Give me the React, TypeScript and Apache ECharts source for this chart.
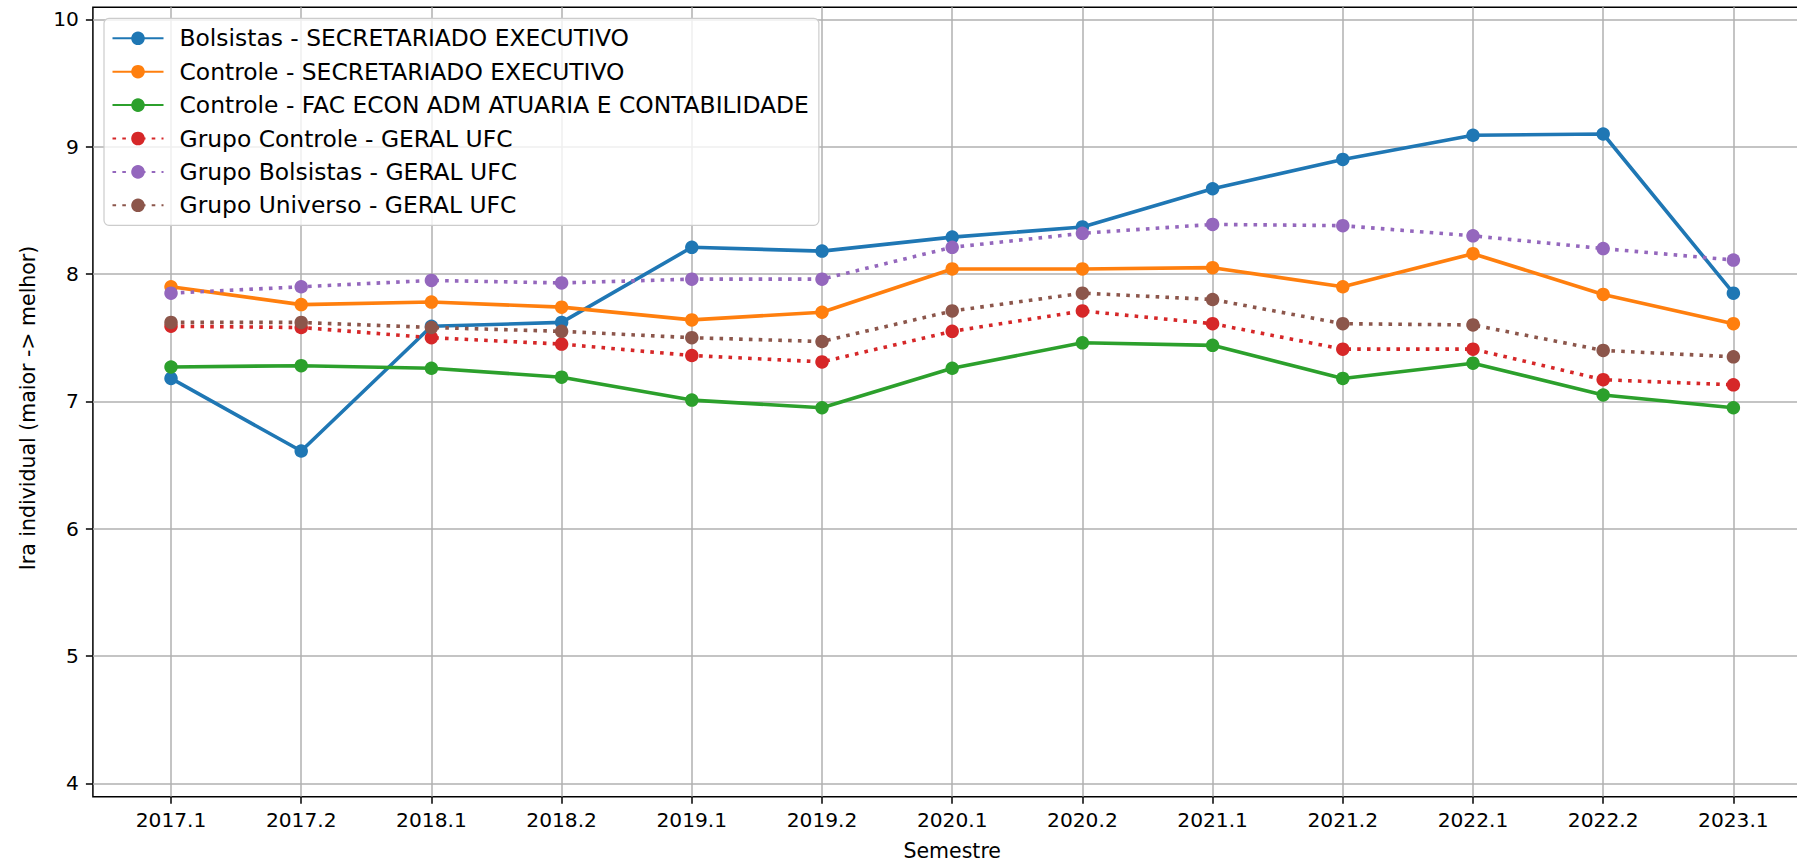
import React, { useEffect, useRef } from "react";
import * as echarts from "echarts";

const semesters = ["2017.1", "2017.2", "2018.1", "2018.2", "2019.1", "2019.2", "2020.1", "2020.2", "2021.1", "2021.2", "2022.1", "2022.2", "2023.1"];
const yTicks = [4, 5, 6, 7, 8, 9, 10];

const bolsistasSE = [7.18, 6.61, 7.59, 7.62, 8.21, 8.18, 8.29, 8.37, 8.67, 8.90, 9.09, 9.10, 7.85];
const controleSE = [7.90, 7.76, 7.78, 7.74, 7.64, 7.70, 8.04, 8.04, 8.05, 7.90, 8.16, 7.84, 7.61];
const controleFAC = [7.27, 7.28, 7.26, 7.19, 7.01, 6.95, 7.26, 7.46, 7.44, 7.18, 7.30, 7.05, 6.95];
const grupoControle = [7.59, 7.58, 7.50, 7.45, 7.36, 7.31, 7.55, 7.71, 7.61, 7.41, 7.41, 7.17, 7.13];
const grupoBolsistas = [7.85, 7.90, 7.95, 7.93, 7.96, 7.96, 8.21, 8.32, 8.39, 8.38, 8.30, 8.20, 8.11];
const grupoUniverso = [7.62, 7.62, 7.58, 7.55, 7.50, 7.47, 7.71, 7.85, 7.80, 7.61, 7.60, 7.40, 7.35];

const seriesDefs = [
  { name: "Bolsistas - SECRETARIADO EXECUTIVO", data: bolsistasSE, color: "#1f77b4", dotted: false },
  { name: "Controle - SECRETARIADO EXECUTIVO", data: controleSE, color: "#ff7f0e", dotted: false },
  { name: "Controle - FAC ECON ADM ATUARIA E CONTABILIDADE", data: controleFAC, color: "#2ca02c", dotted: false },
  { name: "Grupo Controle - GERAL UFC", data: grupoControle, color: "#d62728", dotted: true },
  { name: "Grupo Bolsistas - GERAL UFC", data: grupoBolsistas, color: "#9467bd", dotted: true },
  { name: "Grupo Universo - GERAL UFC", data: grupoUniverso, color: "#8c564b", dotted: true },
];

const FONT = "DejaVu Sans";

export default function App() {
  const ref = useRef<HTMLDivElement>(null);
  useEffect(() => {
    if (!ref.current) return;
    const chart = echarts.init(ref.current, undefined, { renderer: "svg" });
    const xTicks = semesters.map((_, i) => i);
    chart.setOption({
      animation: false,
      backgroundColor: "#ffffff",
      textStyle: { fontFamily: FONT },
      grid: {
        left: 92.9,
        top: 7.3,
        width: 1718.6,
        height: 789.4,
        outerBoundsMode: "none",
        containLabel: false,
        show: true,
        borderColor: "#000000",
        borderWidth: 1.5,
        backgroundColor: "transparent",
      },
      legend: {
        orient: "vertical",
        left: 104,
        top: 18.3,
        padding: [8, 10, 8, 7.5],
        itemWidth: 51,
        itemHeight: 17,
        itemGap: 9.4,
        backgroundColor: "rgba(255,255,255,0.8)",
        borderColor: "#cccccc",
        borderWidth: 1.2,
        borderRadius: 5,
        textStyle: {
          fontFamily: FONT,
          fontSize: 23.4,
          color: "#000",
          lineHeight: 24,
          padding: [0, 0, 0, 11],
        },
        data: seriesDefs.map((s) => s.name),
      },
      xAxis: {
        type: "value",
        min: -0.6,
        max: 12.6,
        name: "Semestre",
        nameLocation: "middle",
        nameGap: 44,
        nameTextStyle: { fontFamily: FONT, fontSize: 20.5, color: "#000" },
        axisLine: { show: false, onZero: false },
        axisTick: { show: true, customValues: xTicks, length: 7, lineStyle: { color: "#000", width: 1.5 } },
        axisLabel: {
          customValues: xTicks,
          margin: 13,
          fontFamily: FONT,
          fontSize: 20.2,
          color: "#000",
          formatter: (v: number) => semesters[Math.round(v)] ?? "",
        },
        splitLine: { show: true, lineStyle: { color: "#b0b0b0", width: 1.5 } },
      },
      yAxis: {
        type: "value",
        min: 3.895,
        max: 10.095,
        name: "Ira individual (maior -> melhor)",
        nameLocation: "middle",
        nameGap: 54,
        nameTextStyle: { fontFamily: FONT, fontSize: 20.5, color: "#000", padding: [0, 12, 0, 0] },
        axisLine: { show: false, onZero: false },
        axisTick: { show: true, customValues: yTicks, length: 7, lineStyle: { color: "#000", width: 1.5 } },
        axisLabel: {
          customValues: yTicks,
          margin: 14,
          fontFamily: FONT,
          fontSize: 20.2,
          color: "#000",
        },
        splitLine: { show: true, lineStyle: { color: "#b0b0b0", width: 1.5 } },
      },
      series: seriesDefs.map((s) => ({
        name: s.name,
        type: "line",
        data: s.data.map((v, i) => [i, v]),
        symbol: "circle",
        symbolSize: 13.5,
        showSymbol: true,
        color: s.color,
        itemStyle: { color: s.color },
        lineStyle: {
          color: s.color,
          width: 3.6,
          type: s.dotted ? [3.6, 6.2] : "solid",
          cap: "butt",
        },
        emphasis: { disabled: true },
      })),
    });
    return () => chart.dispose();
  }, []);
  return (
    <div
      ref={ref}
      style={{ position: "fixed", left: 0, top: 0, width: 1797, height: 862, background: "#fff" }}
    />
  );
}
